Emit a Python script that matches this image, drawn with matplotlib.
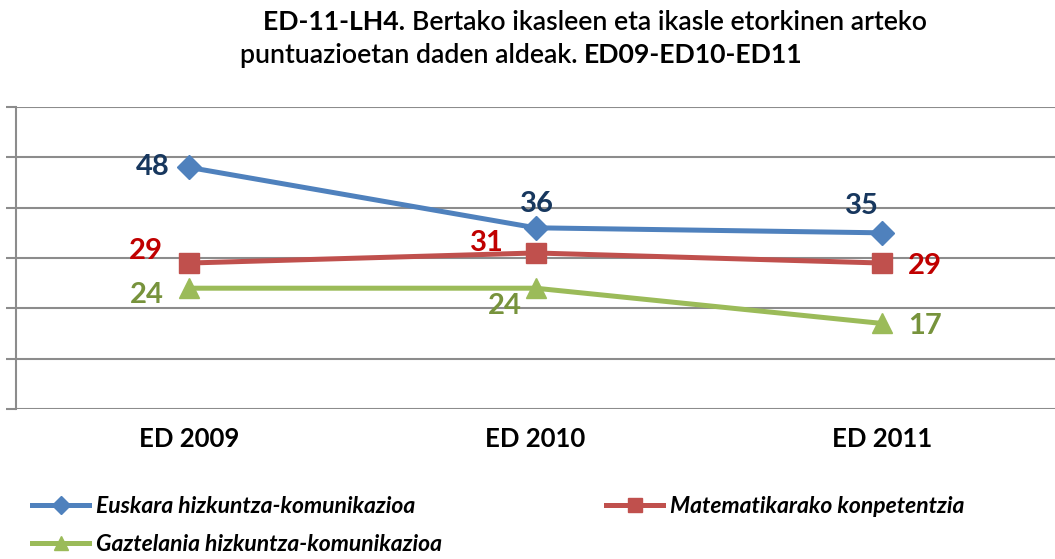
import matplotlib
matplotlib.use("Agg")
import matplotlib.pyplot as plt
from matplotlib.lines import Line2D

plt.rcParams['font.family'] = ['Lato', 'DejaVu Sans']

categories = ["ED 2009", "ED 2010", "ED 2011"]
series_names = ["Euskara hizkuntza-komunikazioa",
                "Matematikarako konpetentzia",
                "Gaztelania hizkuntza-komunikazioa"]
euskara = [48, 36, 35]
matematika = [29, 31, 29]
gaztelania = [24, 24, 17]

line_colors = ["#4F81BD", "#C0504D", "#9BBB59"]
label_colors = ["#17375E", "#C00000", "#77933C"]
markers = ["D", "s", "^"]
msizes = [12, 14, 14]

fig = plt.figure(figsize=(10.55, 5.59), dpi=100)
ax = fig.add_axes([16/1055, 1 - 409/559, 1 - 16/1055, (409 - 107)/559])
ax.set_xlim(-0.5, 2.5)
ax.set_ylim(0, 60)
ax.set_yticks(range(0, 61, 10))
ax.set_yticklabels([])
ax.grid(axis='y', color='#8c8c8c', linewidth=1.5)
ax.set_axisbelow(True)
for s in ['top', 'right', 'bottom']:
    ax.spines[s].set_visible(False)
ax.spines['left'].set_color('#8c8c8c')
ax.spines['left'].set_linewidth(1.5)
ax.tick_params(axis='y', length=7, color='#8c8c8c', width=1.5)
ax.tick_params(axis='x', length=0, pad=13)
x = list(range(len(categories)))
ax.set_xticks(x)
ax.set_xticklabels(categories, fontsize=18.5, fontweight='bold')

all_series = [euskara, matematika, gaztelania]
for i, vals in enumerate(all_series):
    ax.plot(x, vals, color=line_colors[i], linewidth=3.6, marker=markers[i],
            markersize=msizes[i], markerfacecolor=line_colors[i],
            markeredgecolor=line_colors[i], clip_on=False, zorder=3)

# data label offsets (points)
offsets = [
    [(-14, 0, 'right', 'center'), (1, 17, 'center', 'center'), (-14, 19, 'center', 'center')],
    [(-19, 9, 'right', 'center'), (-35, 7, 'center', 'center'), (19, -2, 'left', 'center')],
    [(-18, -5, 'right', 'center'), (-10, -13, 'right', 'center'), (19, -2, 'left', 'center')],
]
for i, vals in enumerate(all_series):
    for j, v in enumerate(vals):
        dx, dy, ha, va = offsets[i][j]
        ax.annotate(f"{v}", (x[j], v), xytext=(dx, dy), textcoords='offset points',
                    ha=ha, va=va, fontsize=21, fontweight='bold', color=label_colors[i])

# legend (column-major order so rows read Euskara, Matematika / Gaztelania)
handles = [Line2D([0], [0], color=line_colors[i], linewidth=3.6, marker=markers[i],
                  markersize=msizes[i] * 0.75) for i in range(3)]
order = [0, 2, 1]
fig.legend([handles[k] for k in order], [series_names[k] for k in order],
           loc='upper left', bbox_to_anchor=(32/1055, 1 - 496/559), ncol=2,
           frameon=False, prop={'size': 16.5, 'style': 'italic', 'weight': 'bold'},
           borderaxespad=0, borderpad=0,
           handlelength=2.5, handletextpad=0.3, columnspacing=7.15, labelspacing=0.75)

# title with mixed weights
fig.canvas.draw()
renderer = fig.canvas.get_renderer()
def draw_pieces(pieces, x0, y0):
    xp = x0
    for txt, w in pieces:
        t = fig.text(xp / 1055, 1 - y0 / 559, txt, fontsize=19.2, fontweight=w,
                     ha='left', va='center', color='black')
        bb = t.get_window_extent(renderer=renderer)
        xp += bb.width
draw_pieces([("ED-11-LH4. ", 'bold'),
             ("Bertako ikasleen eta ikasle etorkinen arteko", 'semibold')], 263, 22)
draw_pieces([("puntuazioetan daden aldeak. ", 'semibold'), ("ED09-ED10-ED11", 'bold')], 240, 55)

fig.savefig("out.png", dpi=100)
